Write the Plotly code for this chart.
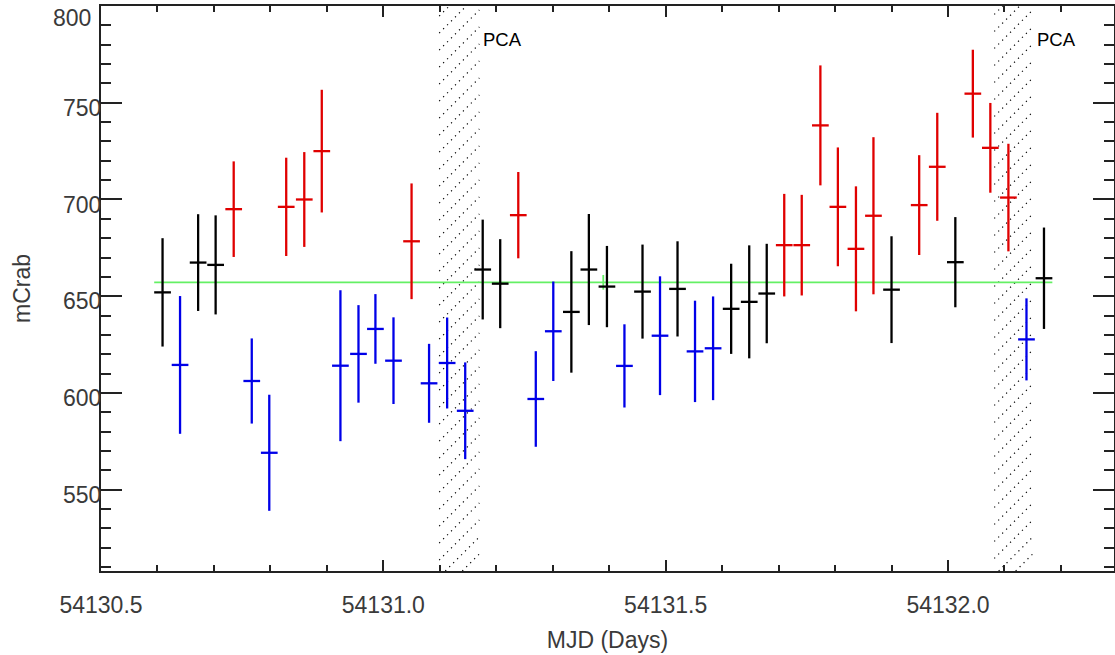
import plotly.graph_objects as go

# ---------------- data ----------------
mjd = [54130.609, 54130.640, 54130.672, 54130.703, 54130.735, 54130.767, 54130.798,
       54130.828, 54130.860, 54130.891, 54130.924, 54130.956, 54130.986, 54131.018,
       54131.050, 54131.081, 54131.113, 54131.145, 54131.176, 54131.207, 54131.239,
       54131.270, 54131.301, 54131.333, 54131.364, 54131.396, 54131.427, 54131.459,
       54131.490, 54131.521, 54131.552, 54131.584, 54131.616, 54131.648, 54131.679,
       54131.710, 54131.741, 54131.774, 54131.805, 54131.837, 54131.868, 54131.900,
       54131.949, 54131.981, 54132.013, 54132.044, 54132.075, 54132.107, 54132.139,
       54132.170]
mcrab = [652.0, 614.5, 667.4, 666.2, 695.0, 606.2, 569.1,
         696.2, 700.0, 725.0, 614.1, 620.2, 633.1, 616.7,
         678.4, 605.0, 615.5, 590.8, 663.8, 656.5, 691.9,
         596.9, 631.9, 641.9, 663.8, 655.0, 614.0, 652.4,
         629.6, 653.8, 621.5, 623.1, 643.5, 647.1, 651.4,
         676.4, 676.4, 738.3, 696.2, 674.5, 691.6, 653.4,
         697.1, 716.9, 667.6, 754.7, 726.7, 701.0, 627.7,
         659.3]
err = [28.0, 35.6, 25.0, 25.6, 24.7, 22.0, 30.0,
       25.4, 24.5, 31.7, 39.0, 25.2, 18.0, 22.4,
       29.9, 20.4, 23.5, 25.0, 25.8, 23.0, 22.3,
       24.7, 25.7, 31.4, 28.7, 21.0, 21.5, 24.3,
       30.7, 24.6, 26.2, 26.8, 23.3, 29.2, 25.7,
       26.5, 26.0, 31.0, 30.7, 32.3, 40.6, 27.6,
       25.8, 27.9, 23.3, 22.7, 23.2, 27.8, 21.2,
       26.2]
state = ["k", "b", "k", "k", "r", "b", "b",
         "r", "r", "r", "b", "b", "b", "b",
         "r", "b", "b", "b", "k", "k", "r",
         "b", "b", "k", "k", "k", "b", "k",
         "b", "k", "b", "b", "k", "k", "k",
         "r", "r", "r", "r", "r", "r", "k",
         "r", "r", "k", "r", "r", "r", "b",
         "k"]
half_bin = 0.0148          # half width of the time bin (days)
mean_rate = 657.2
mean_err = 3.8
pca_start = [54131.099, 54132.082]
pca_end = [54131.170, 54132.150]
pca_label = "PCA"
y_tick_vals = [550, 600, 650, 700, 750, 800]
y_tick_text = ["550", "600", "650", "700", "750", "800"]

# ---------------- layout geometry ----------------
W, H = 1115, 655
ML, MR, MT, MB = 101, 1, 6, 84
xr = [54130.5, 54132.294]
yr = [508, 800]
pw, ph = W - ML - MR, H - MT - MB
pxx = pw / (xr[1] - xr[0])
pxy = ph / (yr[1] - yr[0])

fig = go.Figure()

# hatched PCA intervals (dotted diagonal lines)
hx, hy = [], []
spacing = 17.0
for x0, x1 in zip(pca_start, pca_end):
    w = (x1 - x0) * pxx
    c = -w
    while c < ph:
        a = max(0.0, -c)
        b = min(w, ph - c)
        if b > a:
            hx += [x0 + a / pxx, x0 + b / pxx, None]
            hy += [yr[0] + (a + c) / pxy, yr[0] + (b + c) / pxy, None]
        c += spacing
fig.add_trace(go.Scatter(x=hx, y=hy, mode="lines", hoverinfo="skip",
                         line=dict(color="black", width=1.2, dash="1.2px,4.4px"),
                         showlegend=False))

# mean level
fig.add_trace(go.Scatter(x=[mjd[0] - half_bin, mjd[-1] + half_bin],
                         y=[mean_rate, mean_rate], mode="lines",
                         line=dict(color="rgb(100,240,100)", width=1.8),
                         showlegend=False))
fig.add_trace(go.Scatter(x=[(mjd[0] + mjd[-1]) / 2], y=[mean_rate], mode="markers",
                         marker=dict(size=1, color="rgba(0,0,0,0)"),
                         error_y=dict(type="constant", value=mean_err, width=0,
                                      thickness=1.8, color="rgb(100,240,100)"),
                         showlegend=False))

colors = {"k": "black", "r": "#e00000", "b": "#0000e8"}
for key in ["k", "r", "b"]:
    xs = [m for m, s in zip(mjd, state) if s == key]
    ys = [v for v, s in zip(mcrab, state) if s == key]
    es = [e for e, s in zip(err, state) if s == key]
    fig.add_trace(go.Scatter(
        x=xs, y=ys, mode="markers",
        marker=dict(size=1, color="rgba(0,0,0,0)"),
        error_y=dict(type="data", array=es, width=0, thickness=2.3, color=colors[key]),
        error_x=dict(type="constant", value=half_bin, width=0, thickness=2.3, color=colors[key]),
        showlegend=False))

for x1 in pca_end:
    fig.add_annotation(x=x1, y=0.941, xref="x", yref="paper", text=pca_label,
                       showarrow=False, xanchor="left", yanchor="middle", xshift=2,
                       font=dict(family="Liberation Sans", size=18.5, color="black"))

axis_font = dict(family="Liberation Sans", size=23, color="#3a3a3a")
title_font = dict(family="Liberation Sans", size=23, color="#3a3a3a")

# the top tick label sits lower so that it stays inside the picture
tick_text_shown = [t if v < yr[1] else "" for v, t in zip(y_tick_vals, y_tick_text)]
for v, t in zip(y_tick_vals, y_tick_text):
    if v >= yr[1]:
        fig.add_annotation(x=0, xref="paper", y=v, yref="y", text=t, showarrow=False,
                           xanchor="right", yanchor="middle", xshift=-8, yshift=-12,
                           font=axis_font)

fig.update_layout(
    width=W, height=H,
    margin=dict(l=ML, r=MR, t=MT, b=MB, autoexpand=False),
    paper_bgcolor="white", plot_bgcolor="white",
    showlegend=False,
    xaxis=dict(range=xr, showgrid=False, zeroline=False, automargin=False,
               showline=True, linecolor="#222", linewidth=2, mirror="allticks",
               ticks="inside", ticklen=11, tickwidth=2, tickcolor="#222",
               tick0=54130.5, dtick=0.5, tickformat=".1f",
               minor=dict(ticks="inside", dtick=0.1, ticklen=6, tickwidth=2, tickcolor="#222"),
               tickfont=axis_font, ticklabelstandoff=12, ticklabeloverflow="allow",
               title=dict(text="MJD (Days)", font=title_font, standoff=15)),
    yaxis=dict(range=yr, showgrid=False, zeroline=False, automargin=False,
               showline=True, linecolor="#222", linewidth=2, mirror="allticks",
               ticks="inside", ticklen=21, tickwidth=2, tickcolor="#222",
               tickmode="array", tickvals=y_tick_vals, ticktext=tick_text_shown,
               minor=dict(ticks="inside", tick0=510, dtick=10, ticklen=10, tickwidth=2,
                          tickcolor="#222"),
               tickfont=axis_font, ticklabelshift=5, ticklabelstandoff=-7,
               ticklabeloverflow="allow",
               title=dict(text="mCrab", font=title_font, standoff=26)),
)

fig.write_html("out.html", config={"displayModeBar": False},
               post_script="document.body.style.margin='0';document.body.style.overflow='hidden';")
